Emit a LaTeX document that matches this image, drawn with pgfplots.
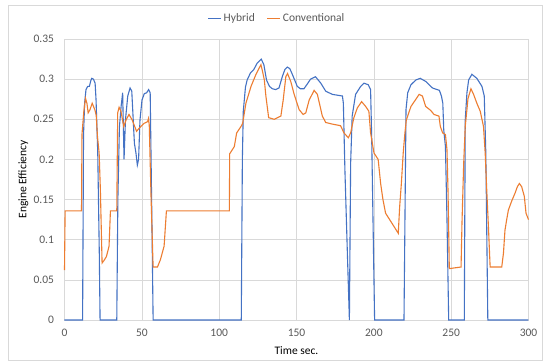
\documentclass[border=0pt]{standalone}
\usepackage{pgfplots}
\pgfplotsset{compat=1.18}
\usepackage{fontspec}
\setmainfont{Carlito}
\definecolor{hyb}{HTML}{4472C4}
\definecolor{conv}{HTML}{ED7D31}
\definecolor{grd}{HTML}{D9D9D9}
\definecolor{txt}{HTML}{595959}
\begin{document}
\begin{tikzpicture}[font=\fontsize{11.5}{13.8}\selectfont]
\useasboundingbox (-64.5pt,-44pt) rectangle (485.5pt,320pt);
\fill[white] (-64.5pt,-44pt) rectangle (485.5pt,320pt);
\draw[grd, line width=0.75pt] (-56.5pt,-40pt) rectangle (477.5pt,315pt);
\begin{axis}[
  scale only axis, width=464pt, height=281pt,
  xmin=0, xmax=300, ymin=0, ymax=0.35,
  xtick={0,50,100,150,200,250,300},
  ytick={0,0.05,0.1,0.15,0.2,0.25,0.3,0.35},
  grid=major,
  grid style={grd, line width=0.6pt},
  axis line style={grd, line width=0.6pt},
  major tick length=0pt,
  tick label style={text=txt, font=\fontsize{11.5}{13.8}\selectfont},
  /pgf/number format/assume math mode=true,
  yticklabel style={/pgf/number format/fixed, /pgf/number format/precision=2, xshift=-7pt},
  xticklabel style={yshift=-6pt},
  xlabel={Time sec.}, ylabel={Engine Efficiency},
  label style={text=txt, font=\fontsize{11.5}{13.8}\selectfont},
  every axis x label/.style={at={(axis description cs:0.5,-0.1093)}, anchor=center},
  every axis y label/.style={at={(axis description cs:-0.0888,0.5)}, rotate=90, anchor=center},
  legend style={at={(axis description cs:0.458,1.0737)}, anchor=center, draw=none, fill=none,
    text=txt, font=\fontsize{11.5}{13.8}\selectfont, /tikz/every even column/.append style={column sep=10pt}},
  legend columns=2,
  legend image code/.code={\draw[#1] (0pt,0pt) -- (13pt,0pt);},
  clip=false,
]
\addplot[hyb, line width=1.1pt] coordinates {
(0,0) (11.7,0) (12.3,0.23) (13.0,0.27) (13.9,0.287) (15,0.291) (16.1,0.291) (17.0,0.298) (17.6,0.301) (18.7,0.300) (19.8,0.295) (20.4,0.274) (21.5,0.208) (22.5,0.083) (23,0)
(33.8,0) (34.5,0.15) (35.5,0.24) (36.6,0.266) (37.6,0.283) (38.5,0.2) (39.4,0.249) (40.9,0.279) (42.4,0.289) (43.5,0.285) (44.1,0.262) (45.2,0.220) (46.2,0.208) (47.1,0.193) (47.9,0.2) (48.8,0.249) (50.1,0.274) (51.6,0.282) (53.1,0.283) (54.4,0.287) (55.4,0.283) (56.5,0.125) (57.3,0)
(114.3,0) (115,0.2) (115.6,0.26) (117,0.29) (118.1,0.299) (120.3,0.308) (122.4,0.312) (124.6,0.320) (127.2,0.325) (128.9,0.318) (130.6,0.299) (132.5,0.291) (134.4,0.288) (136.5,0.287) (138.7,0.289) (140.8,0.303) (142.5,0.312) (144.1,0.315) (145.7,0.313) (147.3,0.306) (150.5,0.291) (152.5,0.288) (154.8,0.288) (157,0.294) (159.1,0.300) (162.3,0.303) (165.7,0.295) (168.9,0.285) (173.2,0.281) (179.7,0.279) (180.3,0.27) (181.3,0.187) (182.9,0.083) (184.2,0) (185,0.195) (186,0.254) (188.2,0.281) (191.5,0.291) (193.6,0.295) (196.4,0.293) (197.9,0.287) (198.6,0.229) (200.5,0)
(219.5,0) (220.8,0.262) (221.9,0.283) (224,0.293) (227.2,0.299) (230,0.301) (233.7,0.297) (237.9,0.289) (242.4,0.286) (243.7,0.279) (244.6,0.270) (245.2,0.237) (246.3,0.216) (247.3,0.125) (248.4,0) (258.5,0) (259.1,0.249) (260.2,0.283) (261.3,0.299) (263.4,0.306) (266.6,0.301) (269.9,0.291) (271.4,0.279) (272.4,0.208) (273.7,0) (300,0)
};
\addlegendentry{Hybrid}
\addplot[conv, line width=1.1pt] coordinates {
(0,0.062) (0.4,0.136) (11,0.136) (11.3,0.231) (12.5,0.26) (13.6,0.276) (14.5,0.27) (15.3,0.258) (16.5,0.262) (17.9,0.270) (19.6,0.262) (20.5,0.255) (21.3,0.229) (22.4,0.208) (23.2,0.162) (24.3,0.071) (25.5,0.074) (27.1,0.079) (28.8,0.092) (29.7,0.136) (33.8,0.136) (34.4,0.258) (35.3,0.265) (36.5,0.26) (38.3,0.241) (40,0.25) (41.7,0.256) (43.8,0.249) (46.6,0.235) (48.3,0.239) (51.5,0.245) (53.7,0.247) (54.3,0.251) (54.8,0.243) (56,0.15) (57.3,0.066) (60.1,0.066) (62,0.075) (64.4,0.092) (65.9,0.136) (106.6,0.136) (106.8,0.207) (109.8,0.216) (111.3,0.233) (114.1,0.241) (115.2,0.245) (117.3,0.270) (120.6,0.291) (123.8,0.306) (127,0.318) (128,0.31) (129.2,0.299) (130.2,0.279) (132,0.252) (135.6,0.250) (139.9,0.254) (141.4,0.274) (143.1,0.303) (144.2,0.307) (146.3,0.297) (148.5,0.281) (151.7,0.262) (154.3,0.256) (156,0.258) (158.2,0.274) (161.4,0.286) (163.5,0.281) (166.7,0.254) (168.9,0.246) (173.2,0.244) (178.5,0.242) (180.7,0.233) (183.5,0.227) (185,0.233) (187.1,0.252) (189.3,0.264) (192.1,0.272) (194.7,0.266) (196.8,0.260) (197.9,0.233) (200.1,0.208) (202.8,0.200) (204.4,0.170) (205.9,0.150) (207.6,0.133) (210.9,0.123) (215.8,0.108) (216.7,0.141) (217.8,0.170) (219,0.208) (220.1,0.233) (221,0.249) (224,0.266) (227.2,0.275) (229.3,0.281) (231.4,0.279) (233.5,0.266) (236.8,0.261) (238.9,0.256) (242.1,0.254) (243,0.241) (244.5,0.233) (246.3,0.231) (247.3,0.212) (248,0.158) (248.8,0.064) (256.4,0.066) (257,0.121) (258.1,0.195) (259.1,0.241) (260.9,0.276) (262.8,0.288) (264.5,0.281) (266.6,0.270) (268.8,0.260) (270.9,0.241) (272,0.208) (273,0.162) (274.1,0.116) (275.2,0.066) (282.7,0.066) (283.8,0.083) (284.8,0.112) (285.9,0.125) (287,0.137) (289.1,0.148) (291.3,0.158) (292.8,0.166) (294.1,0.170) (295.6,0.166) (297.3,0.154) (298.4,0.133) (300,0.125)
};
\addlegendentry{Conventional}
\end{axis}
\end{tikzpicture}
\end{document}
